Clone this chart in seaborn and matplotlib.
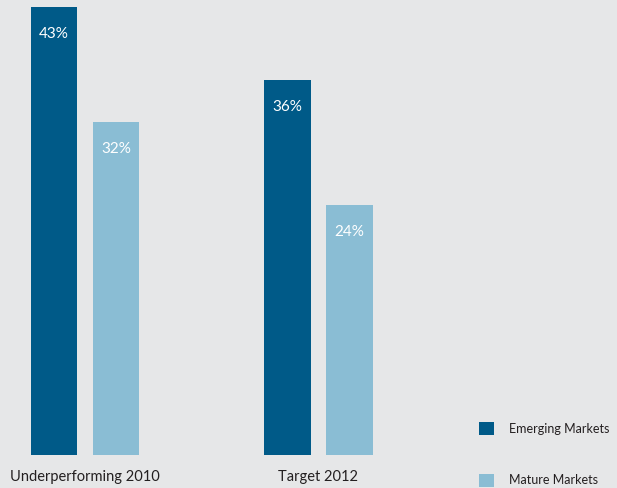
import matplotlib
matplotlib.use("Agg")
import matplotlib.pyplot as plt
import seaborn as sns
import pandas as pd

categories = ["Underperforming 2010", "Target 2012"]
series_names = ["Emerging Markets", "Mature Markets"]
emerging = [43, 36]
mature = [32, 24]

df = pd.DataFrame({
    "category": categories * 2,
    "series": [series_names[0]] * 2 + [series_names[1]] * 2,
    "value": emerging + mature,
})

BG = "#e6e7e8"
palette = {"Emerging Markets": "#005a88", "Mature Markets": "#8abdd4"}

sns.set_style("white")
plt.rcParams["font.family"] = ["Lato", "DejaVu Sans"]

fig = plt.figure(figsize=(6.17, 4.88), dpi=100, facecolor=BG)
ax = fig.add_axes([0, 33 / 488, 1, 448 / 488])
ax.set_facecolor(BG)

sns.barplot(data=df, x="category", y="value", hue="series", order=categories,
            hue_order=series_names, palette=palette, width=124 / 233.5, gap=0.258,
            saturation=1, linewidth=0, ax=ax, legend=True)

ax.set_xlim(-85 / 233.5, (617 - 85) / 233.5)
ax.set_ylim(0, 43)
for s in ax.spines.values():
    s.set_visible(False)
ax.set_yticks([])
ax.set_xlabel("")
ax.set_ylabel("")
ax.tick_params(axis="x", length=0, pad=11, labelsize=10.5, labelcolor="#231f20")

for cont in ax.containers:
    for bar, v in zip(cont, cont.datavalues):
        ax.annotate(f"{v:.0f}%", (bar.get_x() + bar.get_width() / 2, v),
                    xytext=(0, -27), textcoords="offset pixels",
                    ha="center", va="center", color="white", fontsize=11)

handles, labels = ax.get_legend_handles_labels()
ax.legend(handles, labels, loc="upper left", bbox_to_anchor=(468 / 617, 1 - 411 / 488),
          bbox_transform=fig.transFigure, frameon=False, fontsize=9,
          handlelength=1.2, handleheight=1.2, labelspacing=3.1, handletextpad=1.2,
          labelcolor="#231f20")

fig.savefig("out.png", dpi=100, facecolor=BG)
